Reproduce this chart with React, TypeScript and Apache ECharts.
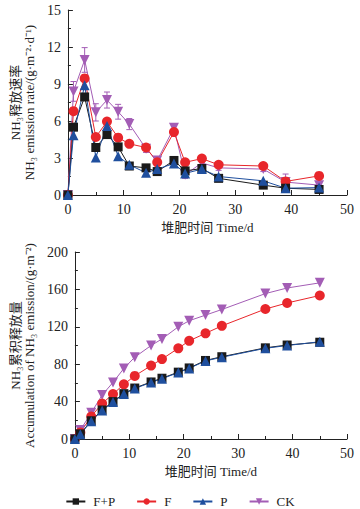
import React, { useEffect, useRef } from "react";
import * as echarts from "echarts";

const days = [0, 1, 3, 5, 7, 9, 11, 14, 16, 19, 21, 24, 27, 35, 39, 45];

const rateFP = [0, 5.5, 7.95, 3.85, 4.9, 3.9, 2.35, 2.2, 1.9, 2.8, 1.95, 2.15, 1.35, 0.8, 0.55, 0.45];
const rateF = [0, 6.8, 9.45, 4.7, 5.95, 4.65, 4.15, 3.85, 2.65, 5.1, 2.65, 2.95, 2.45, 2.35, 1.1, 1.55];
const rateP = [0, 4.85, 8.9, 3.05, 5.6, 3.15, 2.45, 1.8, 2.1, 2.55, 1.75, 2.1, 1.5, 1.15, 0.55, 0.6];
const rateCK = [0, 8.4, 10.95, 6.7, 7.7, 6.75, 5.75, 3.75, 2.8, 5.45, 1.65, 2.6, 2.2, 2.1, 1.05, 0.8];
const rateCKErr = [0, 0.8, 1.0, 0.7, 0.65, 0.6, 0.45, 0.3, 0.2, 0.3, 0.3, 0.2, 0.2, 0.2, 0.65, 0.3];

const accFP = [0, 5.5, 19.5, 31, 40, 48.5, 54.5, 61, 65, 71.5, 76, 84, 88, 97.5, 100.5, 103.5];
const accF = [0, 7, 24, 38, 48, 58.5, 67.5, 78.5, 85.5, 97, 105, 113, 121, 139, 145.5, 153.5];
const accP = [0, 5, 19, 30.5, 39.5, 48, 54, 60.5, 64.5, 71, 75.5, 83.5, 87.5, 97, 100, 104];
const accCK = [0, 9.5, 28, 47, 60.5, 75.5, 87.5, 100, 107, 120, 126.5, 132.5, 138.5, 155.5, 161.5, 167];

const names = ["F+P", "F", "P", "CK"];
const xName = "堆肥时间 Time/d";
const y1Name = "NH₃释放速率\nNH₃ emission rate/(g·m⁻²·d⁻¹)";
const y2Name = "NH₃累积释放量\nAccumulation of NH₃ emission/(g·m⁻²)";

const FONT = "'Liberation Serif', 'Times New Roman', 'Noto Sans CJK SC', serif";
const COLORS: Record<string, string> = { "F+P": "#1a1a1a", F: "#e8262b", P: "#1f4f9e", CK: "#a35db5" };
const SYMBOLS: Record<string, string> = { "F+P": "rect", F: "circle", P: "triangle", CK: "triangle" };

function pair(vals: number[]) {
  return days.map((d, i) => [d, vals[i]]);
}

function lineSeries(name: string, vals: number[], idx: number) {
  return {
    type: "line",
    name,
    xAxisIndex: idx,
    yAxisIndex: idx,
    data: pair(vals),
    symbol: SYMBOLS[name],
    symbolSize: name === "F+P" ? 9 : 10,
    symbolRotate: name === "CK" ? 180 : 0,
    lineStyle: { color: COLORS[name], width: 1 },
    itemStyle: { color: COLORS[name] },
    emphasis: { disabled: true },
  };
}

export default function App() {
  const ref = useRef<HTMLDivElement>(null);
  useEffect(() => {
    if (!ref.current) return;
    const chart = echarts.init(ref.current, undefined, { renderer: "svg" });
    const axisCommon = {
      axisLine: { show: true, lineStyle: { color: "#222", width: 1 } },
      axisTick: { show: true, inside: true, length: 5, lineStyle: { color: "#222" } },
      minorTick: { show: true, splitNumber: 2, length: 3, lineStyle: { color: "#222" } },
      splitLine: { show: false },
      axisLabel: { color: "#222", fontSize: 14, fontFamily: FONT, margin: 7 },
      nameTextStyle: { color: "#222", fontSize: 13, fontFamily: FONT, lineHeight: 14 },
    };
    const xAxisBase = {
      ...axisCommon,
      type: "value",
      min: 0,
      max: 50,
      interval: 10,
      name: xName,
      nameLocation: "middle",
      nameGap: 25,
    };
    const option: any = {
      animation: false,
      backgroundColor: "#fff",
      textStyle: { fontFamily: FONT },
      grid: [
        { left: 65, top: 10, right: 13, height: 185 },
        { left: 66, top: 252, right: 13, height: 187 },
      ],
      xAxis: [
        { ...xAxisBase, gridIndex: 0 },
        { ...xAxisBase, gridIndex: 1 },
      ],
      yAxis: [
        {
          ...axisCommon,
          type: "value",
          gridIndex: 0,
          min: 0,
          max: 15,
          interval: 3,
          name: y1Name,
          nameLocation: "middle",
          nameRotate: 90,
          nameGap: 25,
        },
        {
          ...axisCommon,
          type: "value",
          gridIndex: 1,
          min: 0,
          max: 200,
          interval: 40,
          name: y2Name,
          nameLocation: "middle",
          nameRotate: 90,
          nameGap: 34,
        },
      ],
      legend: {
        data: names,
        top: 490,
        left: "center",
        itemWidth: 19,
        itemHeight: 8,
        itemGap: 21,
        textStyle: { color: "#222", fontSize: 13, fontFamily: FONT, padding: [0, 0, 0, 3] },
      },
      series: [
        {
          type: "custom",
          name: "CK error",
          xAxisIndex: 0,
          yAxisIndex: 0,
          silent: true,
          z: 1,
          data: days.map((d, i) => [d, rateCK[i], rateCKErr[i]]),
          renderItem: (_p: any, api: any) => {
            const x = api.value(0);
            const y = api.value(1);
            const e = api.value(2);
            if (!e) return null;
            const top = api.coord([x, y + e]);
            const bot = api.coord([x, y - e]);
            const w = 3;
            const st = { stroke: COLORS.CK, lineWidth: 1 };
            return {
              type: "group",
              children: [
                { type: "line", shape: { x1: top[0], y1: top[1], x2: bot[0], y2: bot[1] }, style: st },
                { type: "line", shape: { x1: top[0] - w, y1: top[1], x2: top[0] + w, y2: top[1] }, style: st },
                { type: "line", shape: { x1: bot[0] - w, y1: bot[1], x2: bot[0] + w, y2: bot[1] }, style: st },
              ],
            };
          },
        },
        lineSeries("CK", rateCK, 0),
        lineSeries("F", rateF, 0),
        lineSeries("F+P", rateFP, 0),
        lineSeries("P", rateP, 0),
        lineSeries("CK", accCK, 1),
        lineSeries("F", accF, 1),
        lineSeries("F+P", accFP, 1),
        lineSeries("P", accP, 1),
      ],
    };
    chart.setOption(option);
    return () => chart.dispose();
  }, []);
  return (
    <div
      ref={ref}
      style={{ position: "fixed", left: 0, top: 0, width: 360, height: 509, background: "#fff" }}
    />
  );
}
